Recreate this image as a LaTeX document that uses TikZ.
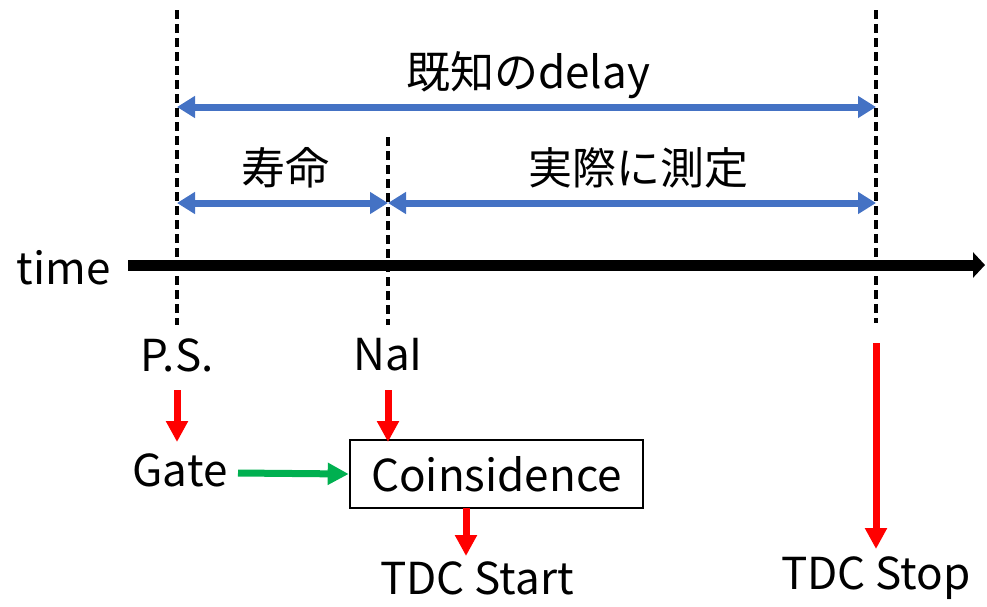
\documentclass[tikz,border=0pt]{standalone}
\usepackage{fontspec}
\setmainfont{Noto Sans CJK JP}
\usetikzlibrary{arrows.meta}
\definecolor{myblue}{RGB}{68,114,196}
\definecolor{myred}{RGB}{255,0,0}
\definecolor{mygreen}{RGB}{0,176,80}
\begin{document}
\begin{tikzpicture}[x=1pt,y=-1pt,
  lbl/.style={font=\fontsize{44}{48}\selectfont, inner sep=0pt, text=black},
  dashline/.style={black, line width=3.4pt, dash pattern=on 9pt off 5pt},
  bluearr/.style={myblue, line width=7pt, {Triangle[length=18pt,width=21pt]}-{Triangle[length=18pt,width=21pt]}},
  redarr/.style={myred, line width=7pt, -{Triangle[length=21pt,width=21pt]}},
  greenarr/.style={mygreen, line width=7pt, -{Triangle[length=21pt,width=21pt]}},
  axisarr/.style={black, line width=11pt, -{Triangle[length=12pt,width=25pt]}},
  boxst/.style={draw=black, line width=2.6pt, minimum width=293pt, minimum height=68pt, inner sep=0pt, font=\fontsize{44}{48}\selectfont}
]
\useasboundingbox (0,0) rectangle (987,606);
% dashed reference lines
\coordinate (d1t) at (177,10);  \coordinate (d1b) at (177,325);
\coordinate (d2t) at (388,137); \coordinate (d2b) at (388,325);
\coordinate (d3t) at (876,10);  \coordinate (d3b) at (876,323);
\draw[dashline] (d1t) -- (d1b);
\draw[dashline] (d2t) -- (d2b);
\draw[dashline] (d3t) -- (d3b);
% blue intervals
\coordinate (a1l) at (177,107); \coordinate (a1r) at (876,107);
\coordinate (a2l) at (177,203); \coordinate (a2m) at (388,203); \coordinate (a2r) at (876,203);
\draw[bluearr] (a1l) -- (a1r);
\draw[bluearr] (a2l) -- (a2m);
\draw[bluearr] (a2m) -- (a2r);
\node[lbl] (known) at (528,75) {既知のdelay};
\node[lbl] (life) at (285,168) {寿命};
\node[lbl] (meas) at (638,168) {実際に測定};
% time axis
\node[lbl, anchor=east] (time) at (111,268) {time};
\coordinate (axl) at (128,265); \coordinate (axr) at (985,265);
\draw[axisarr] (axl) -- (axr);
% lower part
\node[lbl] (ps) at (177,355) {P.S.};
\node[lbl] (nai) at (388,355) {NaI};
\node[lbl] (gate) at (180,470) {Gate};
\node[boxst] (coin) at (496.5,474) {Coinsidence};
\node[lbl] (start) at (477,578) {TDC Start};
\node[lbl] (stop) at (876,578) {TDC Stop};
\coordinate (psa) at (177,390); \coordinate (psb) at (177,442);
\coordinate (naa) at (388,390); \coordinate (nab) at (388,442);
\coordinate (ga) at (238,473);
\coordinate (ca) at (466,508); \coordinate (cb) at (466,556);
\coordinate (sa) at (876,343); \coordinate (sb) at (876,549);
\draw[redarr] (psa) -- (psb);
\draw[redarr] (naa) -- (nab);
\draw[greenarr] (ga) -- (coin.west);
\draw[redarr] (ca) -- (cb);
\draw[redarr] (sa) -- (sb);
\end{tikzpicture}
\end{document}
